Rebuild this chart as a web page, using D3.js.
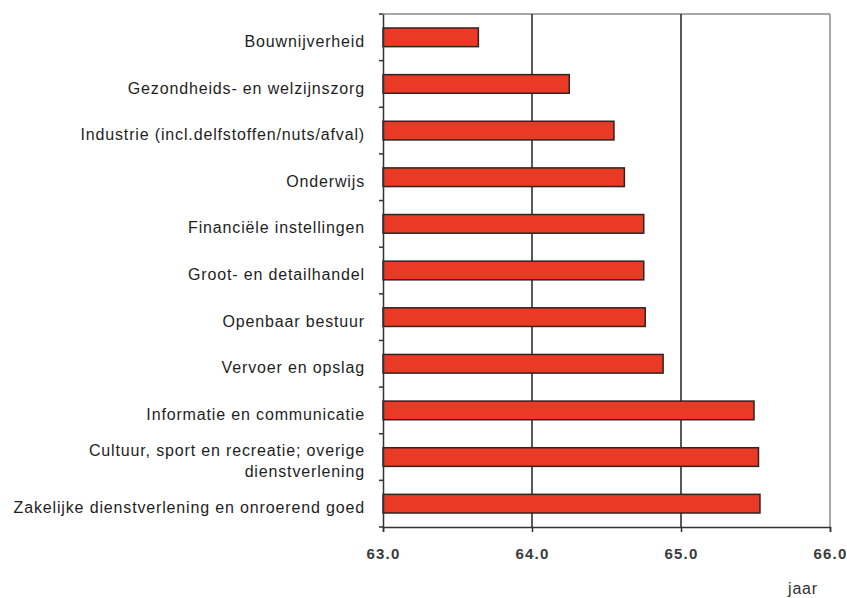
<!DOCTYPE html>
<html>
<head>
<meta charset="utf-8">
<script src="https://cdn.jsdelivr.net/npm/d3@7"></script>
<style>
  html, body { margin: 0; padding: 0; background: #fff; }
  svg { display: block; }
  text { font-family: "Liberation Sans", Arial, sans-serif; }
</style>
</head>
<body>
<svg id="chart" width="847" height="598"></svg>
<script>
const categories = [
  ["Bouwnijverheid"],
  ["Gezondheids- en welzijnszorg"],
  ["Industrie (incl.delfstoffen/nuts/afval)"],
  ["Onderwijs"],
  ["Financiële instellingen"],
  ["Groot- en detailhandel"],
  ["Openbaar bestuur"],
  ["Vervoer en opslag"],
  ["Informatie en communicatie"],
  ["Cultuur, sport en recreatie; overige", "dienstverlening"],
  ["Zakelijke dienstverlening en onroerend goed"]
];
const values = [63.64, 64.25, 64.55, 64.62, 64.75, 64.75, 64.76, 64.88, 65.49, 65.52, 65.53];
const xTicks = [63, 64, 65, 66];
const xDomain = [63, 66];
const unitLabel = "jaar";

const svg = d3.select("#chart");
const m = { left: 383, right: 830, top: 14, bottom: 527 };

const x = d3.scaleLinear().domain(xDomain).range([m.left, m.right]);
const y = d3.scaleBand().domain(d3.range(categories.length)).range([m.top, m.bottom]).paddingInner(0.6).paddingOuter(0.3);
const band = d3.scaleBand().domain(d3.range(categories.length)).range([m.top, m.bottom]);

// top & right frame
svg.append("line").attr("x1", m.left).attr("x2", m.right).attr("y1", m.top).attr("y2", m.top)
  .attr("stroke", "#8a8a8a").attr("stroke-width", 1.5);
svg.append("line").attr("x1", m.right).attr("x2", m.right).attr("y1", m.top).attr("y2", m.bottom)
  .attr("stroke", "#8a8a8a").attr("stroke-width", 1.5);

// gridlines
svg.append("g").selectAll("line").data(xTicks.slice(1, -1)).join("line")
  .attr("x1", d => x(d)).attr("x2", d => x(d))
  .attr("y1", m.top).attr("y2", m.bottom)
  .attr("stroke", "#222").attr("stroke-width", 1.5);

// bars
svg.append("g").selectAll("rect").data(values).join("rect")
  .attr("x", x(xDomain[0]))
  .attr("y", (d, i) => y(i))
  .attr("width", d => x(d) - x(xDomain[0]))
  .attr("height", y.bandwidth())
  .attr("fill", "#ea3a25")
  .attr("stroke", "#2e2420")
  .attr("stroke-width", 1.5);

// x axis
const xAxis = d3.axisBottom(x).tickValues(xTicks).tickFormat(d3.format(".1f")).tickSize(5).tickPadding(16);
const gx = svg.append("g").attr("transform", `translate(0,${m.bottom})`).call(xAxis);
gx.select(".domain").attr("stroke", "#333").attr("stroke-width", 1.5);
gx.selectAll(".tick line").attr("stroke", "#333").attr("stroke-width", 1.5);
gx.selectAll(".tick text").attr("font-size", 15).attr("font-weight", "bold").attr("fill", "#3a3a3a")
  .attr("letter-spacing", "1.2px")
  .attr("font-family", "Liberation Sans, Arial, sans-serif");

// y axis
const yAxis = d3.axisLeft(band).tickSize(0).tickFormat("");
const gy = svg.append("g").attr("transform", `translate(${m.left},0)`).call(yAxis);
gy.select(".domain").attr("stroke", "#333").attr("stroke-width", 1.5);
gy.selectAll(".tick").remove();
// boundary ticks
svg.append("g").selectAll("line").data(d3.range(categories.length + 1)).join("line")
  .attr("x1", m.left - 4).attr("x2", m.left)
  .attr("y1", i => m.top + i * band.step()).attr("y2", i => m.top + i * band.step())
  .attr("stroke", "#333").attr("stroke-width", 1.5);

// category labels
const lab = svg.append("g").selectAll("text").data(categories).join("text")
  .attr("x", 365)
  .attr("y", (d, i) => y(i) + y.bandwidth() / 2 + 4)
  .attr("text-anchor", "end")
  .attr("font-size", 16)
  .attr("letter-spacing", "0.85px")
  .attr("fill", "#1e1e1e");
lab.each(function(lines) {
  const t = d3.select(this);
  const n = lines.length;
  lines.forEach((ln, k) => {
    t.append("tspan").attr("x", 365)
      .attr("dy", k === 0 ? `${(-(n - 1) * 1.35 / 2 + 0.35)}em` : "1.35em")
      .text(ln);
  });
});

// unit label
svg.append("text").attr("x", 803).attr("y", 594).attr("text-anchor", "middle")
  .attr("font-size", 16).attr("letter-spacing", "0.8px").attr("fill", "#333").text(unitLabel);
</script>
</body>
</html>
